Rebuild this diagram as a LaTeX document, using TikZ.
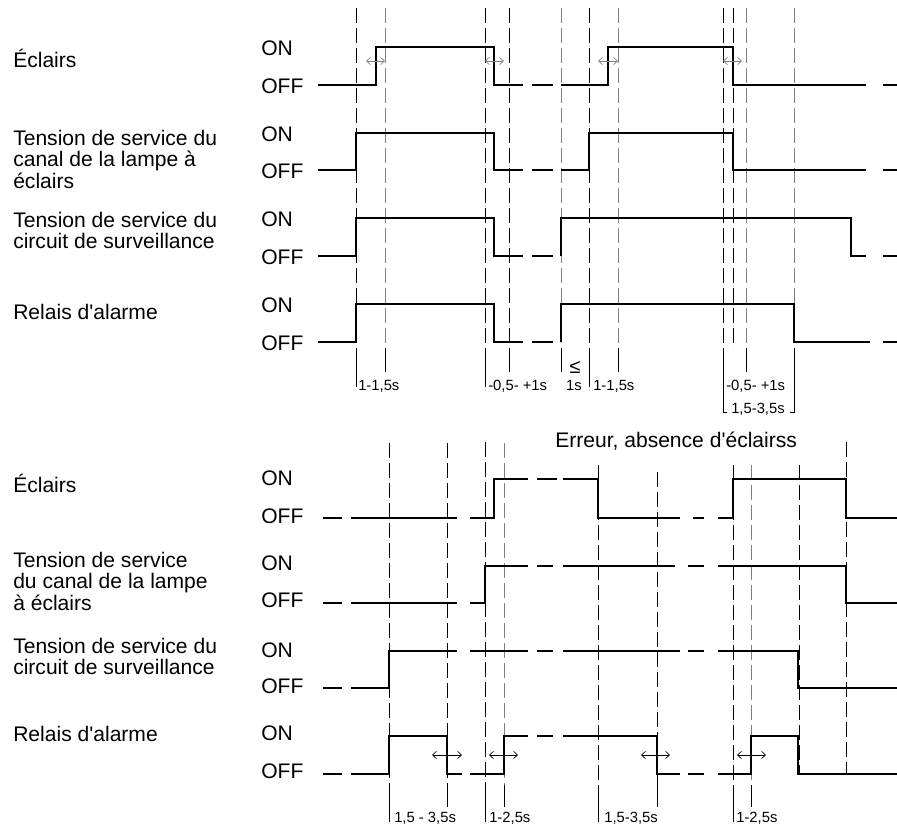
\documentclass[tikz,border=0pt]{standalone}
\usepackage{fontspec}
\setmainfont{Liberation Sans}
\usepackage{xcolor}
\usetikzlibrary{arrows.meta}
\definecolor{jet}{HTML}{000000}
\definecolor{guide-grey}{HTML}{808080}

\begin{document}
\begin{tikzpicture}[x=0.75pt, y=-0.75pt,
    every node/.style={font=\fontsize{15.8}{16}\selectfont, inner sep=0pt},
    wave/.style={line width=2.1pt, color=jet},
    guide/.style={line width=0.7pt, color=jet, dash pattern=on 11pt off 4pt},
    tick/.style={line width=0.7pt, color=jet},
    span/.style={line width=0.5pt, {Straight Barb[length=3pt,width=5.5pt]}-{Straight Barb[length=3pt,width=5.5pt]}},
    dur/.style={font=\fontsize{11.1}{12}\selectfont, anchor=base west}]
  \useasboundingbox (0,0) rectangle (897,826);

  % ---------- upper chart ----------
  \node[anchor=base west] (flash-a) at (13,67) {Éclairs};
  \node[anchor=north west, align=left] (lamp-a) at (13,130) {Tension de service du\\canal de la lampe à\\éclairs};
  \node[anchor=north west, align=left] (watch-a) at (13,212) {Tension de service du\\circuit de surveillance};
  \node[anchor=base west] (relay-a) at (13,319) {Relais d\textquotesingle alarme};
  \node[anchor=base west] (on-a1) at (261,55) {ON};
  \node[anchor=base west] (off-a1) at (261,93) {OFF};
  \node[anchor=base west] (on-a2) at (261,141) {ON};
  \node[anchor=base west] (off-a2) at (261,178) {OFF};
  \node[anchor=base west] (on-a3) at (261,226) {ON};
  \node[anchor=base west] (off-a3) at (261,264) {OFF};
  \node[anchor=base west] (on-a4) at (261,312) {ON};
  \node[anchor=base west] (off-a4) at (261,350) {OFF};

  \draw[guide] (356,8) -- (356,348) (485,8) -- (485,348) (509,8) -- (509,348)
    (589,8) -- (589,348) (723,8) -- (723,348) (733,8) -- (733,348);
  \draw[guide, color=guide-grey] (385,8) -- (385,348) (561,8) -- (561,348)
    (618,8) -- (618,348) (746,8) -- (746,348) (794,8) -- (794,348);
  \draw[tick] (356,348) -- (356,387) (385,348) -- (385,372) (485,348) -- (485,387)
    (509,348) -- (509,372) (561,348) -- (561,372) (589,348) -- (589,387)
    (618,348) -- (618,372) (746,348) -- (746,372);
  \draw[tick] (727,412) -- (723,412) -- (723,348) (790,412) -- (794,412) -- (794,348);

  \draw[wave] (318,85) -- (376,85) -- (376,47) -- (494,47) -- (494,85) -- (523,85)
    (532,85) -- (553,85)
    (561,85) -- (608,85) -- (608,47) -- (733,47) -- (733,85) -- (866,85)
    (883,85) -- (897,85);
  \draw[wave] (318,170) -- (356,170) -- (356,133) -- (494,133) -- (494,170) -- (523,170)
    (532,170) -- (553,170)
    (561,170) -- (589,170) -- (589,133) -- (733,133) -- (733,170) -- (866,170)
    (883,170) -- (897,170);
  \draw[wave] (318,256) -- (356,256) -- (356,218) -- (494,218) -- (494,256) -- (523,256)
    (532,256) -- (553,256)
    (561,256) -- (561,218) -- (851,218) -- (851,256) -- (866,256)
    (883,256) -- (897,256);
  \draw[wave] (318,342) -- (356,342) -- (356,304) -- (494,304) -- (494,342) -- (523,342)
    (532,342) -- (553,342)
    (561,342) -- (561,304) -- (794,304) -- (794,342) -- (870,342)
    (883,342) -- (897,342);

  \draw[span, color=guide-grey] (366,61) -- (385,61);
  \draw[span, color=guide-grey] (485,61) -- (504,61);
  \draw[span, color=guide-grey] (598,61) -- (618,61);
  \draw[span, color=guide-grey] (723,61) -- (742,61);

  \node[dur] (t-a1) at (358,390) {1-1,5s};
  \node[dur] (t-a2) at (488,390) {-0,5- +1s};
  \node[dur, anchor=base, font=\fontsize{15}{15}\selectfont] (t-a3) at (575,373) {≤};
  \node[dur, anchor=base] (t-a4) at (574,390) {1s};
  \node[dur] (t-a5) at (593,390) {1-1,5s};
  \node[dur] (t-a6) at (726,390) {-0,5- +1s};
  \node[dur, anchor=base] (t-a7) at (758,413) {1,5-3,5s};

  % ---------- lower chart ----------
  \node[anchor=base west] (error) at (555,447) {Erreur, absence d\textquotesingle éclairss};
  \node[anchor=base west] (flash-b) at (13,492) {Éclairs};
  \node[anchor=north west, align=left] (lamp-b) at (13,552) {Tension de service\\du canal de la lampe\\à éclairs};
  \node[anchor=north west, align=left] (watch-b) at (13,638) {Tension de service du\\circuit de surveillance};
  \node[anchor=base west] (relay-b) at (13,741) {Relais d\textquotesingle alarme};
  \node[anchor=base west] (on-b1) at (261,485) {ON};
  \node[anchor=base west] (off-b1) at (261,523) {OFF};
  \node[anchor=base west] (on-b2) at (261,570) {ON};
  \node[anchor=base west] (off-b2) at (261,607) {OFF};
  \node[anchor=base west] (on-b3) at (261,657) {ON};
  \node[anchor=base west] (off-b3) at (261,693) {OFF};
  \node[anchor=base west] (on-b4) at (261,740) {ON};
  \node[anchor=base west] (off-b4) at (261,778) {OFF};

  \draw[guide] (389,443) -- (389,785) (447,443) -- (447,785) (485,442) -- (485,785)
    (598,465) -- (598,785) (657,472) -- (657,785) (733,465) -- (733,785)
    (799,465) -- (799,773) (846,442) -- (846,773);
  \draw[guide, color=guide-grey] (504,443) -- (504,785) (751,465) -- (751,785);
  \draw[tick] (389,785) -- (389,822) (447,785) -- (447,807) (485,785) -- (485,822)
    (504,785) -- (504,807) (598,785) -- (598,822) (657,785) -- (657,807)
    (733,785) -- (733,822) (751,785) -- (751,807);

  \draw[wave] (323,518) -- (342,518) (351,518) -- (457,518)
    (470,518) -- (494,518) -- (494,479) -- (528,479)
    (537,479) -- (557,479)
    (563,479) -- (598,479) -- (598,518) -- (680,518)
    (693,518) -- (704,518)
    (718,518) -- (733,518) -- (733,479) -- (846,479) -- (846,518) -- (897,518);
  \draw[wave] (323,603) -- (342,603) (351,603) -- (457,603)
    (470,603) -- (485,603) -- (485,566) -- (528,566)
    (537,566) -- (553,566)
    (563,566) -- (675,566)
    (688,566) -- (704,566)
    (718,566) -- (846,566) -- (846,603) -- (897,603);
  \draw[wave] (323,688) -- (342,688)
    (351,688) -- (389,688) -- (389,651) -- (457,651)
    (470,651) -- (528,651)
    (537,651) -- (553,651)
    (563,651) -- (680,651)
    (688,651) -- (704,651)
    (718,651) -- (798,651) -- (798,688) -- (897,688);
  \draw[wave] (323,774) -- (342,774)
    (351,774) -- (389,774) -- (389,736) -- (447,736) -- (447,774) -- (462,774)
    (470,774) -- (504,774) -- (504,736) -- (528,736)
    (537,736) -- (553,736)
    (563,736) -- (657,736) -- (657,774) -- (680,774)
    (688,774) -- (704,774)
    (718,774) -- (751,774) -- (751,736) -- (798,736) -- (798,774) -- (897,774);

  \draw[span] (432,755) -- (462,755);
  \draw[span] (489,755) -- (518,755);
  \draw[span] (641,755) -- (670,755);
  \draw[span] (737,755) -- (766,755);

  \node[dur] (t-b1) at (394,822) {1,5 - 3,5s};
  \node[dur] (t-b2) at (489,822) {1-2,5s};
  \node[dur] (t-b3) at (604,822) {1,5-3,5s};
  \node[dur] (t-b4) at (736,822) {1-2,5s};
\end{tikzpicture}
\end{document}
